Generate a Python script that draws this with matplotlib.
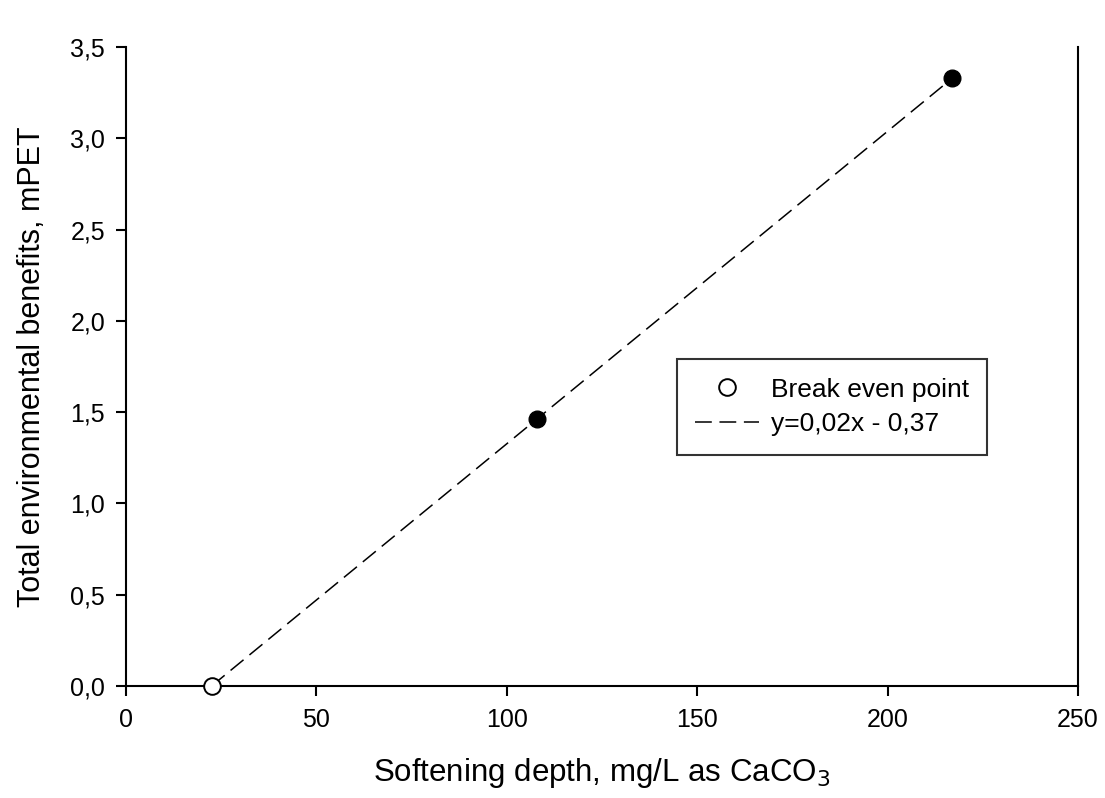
import matplotlib
matplotlib.use("Agg")
import matplotlib.pyplot as plt

plt.rcParams['font.family'] = ['Liberation Sans', 'DejaVu Sans']

break_x = [22.5]
break_y = [0.0]
pts_x = [108, 217]
pts_y = [1.465, 3.33]
line_x = [22.5, 217]
line_y = [0.0, 3.33]
xticks = [0, 50, 100, 150, 200, 250]
yticks = [0.0, 0.5, 1.0, 1.5, 2.0, 2.5, 3.0, 3.5]
ytick_labels = ["0,0", "0,5", "1,0", "1,5", "2,0", "2,5", "3,0", "3,5"]

fig = plt.figure(figsize=(11.05, 7.98), dpi=100)
ax = fig.add_axes([0.114, 0.1404, 0.8616, 0.8006])

ax.plot(line_x, line_y, color='black', lw=1.1, dashes=(11, 5), label='y=0,02x - 0,37', zorder=2)
ax.plot(pts_x, pts_y, 'o', color='black', ms=12, zorder=3)
ax.plot(break_x, break_y, 'o', mfc='white', mec='black', mew=1.4, ms=12,
        label='Break even point', zorder=3, clip_on=False)

ax.set_xlim(0, 250)
ax.set_ylim(0, 3.5)
ax.set_xticks(xticks)
ax.set_yticks(yticks)
ax.set_yticklabels(ytick_labels)
ax.tick_params(direction='out', length=7, width=1.5, labelsize=18)
ax.tick_params(axis='x', pad=9)
ax.tick_params(axis='y', pad=8)
ax.spines['top'].set_visible(False)
for s in ['left', 'bottom', 'right']:
    ax.spines[s].set_linewidth(1.5)
ax.set_xlabel('Softening depth, mg/L as CaCO$_3$', fontsize=22.5, labelpad=17)
ax.set_ylabel('Total environmental benefits, mPET', fontsize=22, labelpad=17)

h, l = ax.get_legend_handles_labels()
leg = ax.legend([h[1], h[0]], [l[1], l[0]], loc='upper left', bbox_to_anchor=(0.5788, 0.5117),
                borderaxespad=0, fontsize=19, frameon=True, fancybox=False, edgecolor='black',
                borderpad=0.7, handlelength=2.4, handletextpad=0.45, labelspacing=0.4)
leg.get_frame().set_linewidth(1.5)

fig.savefig('out.png', dpi=100)
